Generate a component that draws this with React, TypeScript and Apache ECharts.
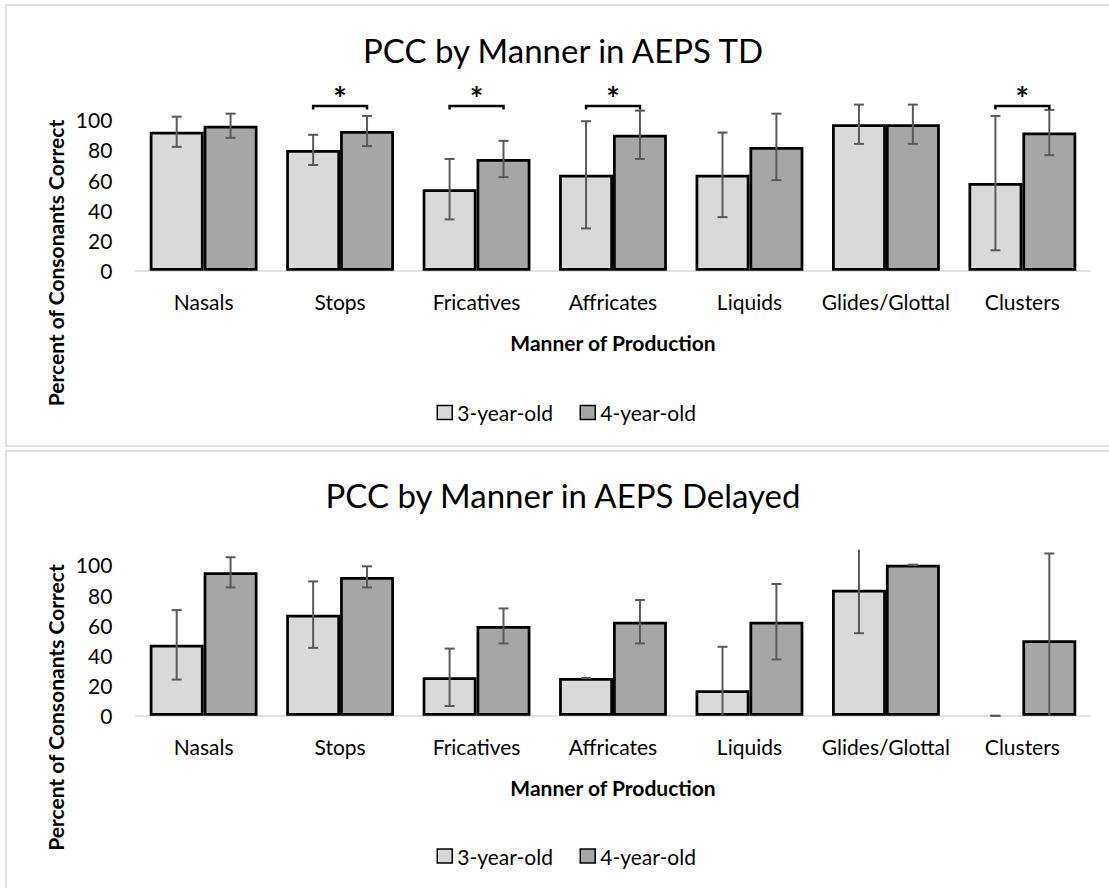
import React, { useEffect, useRef } from "react";
import * as echarts from "echarts";

const categories = ["Nasals", "Stops", "Fricatives", "Affricates", "Liquids", "Glides/Glottal", "Clusters"];
const ageGroups = ["3-year-old", "4-year-old"];

const tdThreeYear = [92, 80, 54, 63.5, 63.5, 97, 58];
const tdThreeYearSD = [10, 10, 20, 35.5, 28, 13, 44.5];
const tdFourYear = [96, 92.5, 74, 90, 82, 97, 91.5];
const tdFourYearSD = [8, 10, 12, 16, 22, 13, 15];
const tdSignificant = [false, true, true, true, false, false, true];

const delThreeYear = [47, 67, 25.5, 25, 17, 83.5, 0];
const delThreeYearSD = [23, 22, 19, 0, 28.7, 28.8, 0];
const delFourYear = [95, 92, 59.5, 62.3, 62.3, 100, 50];
const delFourYearSD = [10, 7, 11.6, 14.4, 25, 0, 57.5];
const delSignificant = [false, false, false, false, false, false, false];

const titles = ["PCC by Manner in AEPS TD", "PCC by Manner in AEPS Delayed"];
const xAxisTitle = "Manner of Production";
const yAxisTitle = "Percent of Consonants Correct";

const Y_MIN = 0;
const Y_MAX = 110;
const Y_INTERVAL = 20;
const BRACKET_LEVEL = 109;

const FONT = "Lato, 'Noto Sans', sans-serif";
const CAT_GAP = 0.21;
const COLOR_3 = "#d9d9d9";
const COLOR_4 = "#a6a6a6";
const ERR_COLOR = "#5a5a5a";

const errorRender = (params: any, api: any) => {
  const idx = api.value(0);
  const v = api.value(1);
  const e = api.value(2);
  const side = api.value(3);
  const band = api.size([1, 0])[0];
  const barW = (band * (1 - CAT_GAP)) / 2;
  const x = api.coord([idx, 0])[0] + (side * barW) / 2;
  const hiV = v + e;
  const loV = v - e;
  const yHi = api.coord([idx, Math.min(hiV, Y_MAX)])[1];
  const yLo = api.coord([idx, Math.max(loV, Y_MIN)])[1];
  const st = { stroke: ERR_COLOR, lineWidth: 2 };
  const children: any[] = [
    { type: "line", shape: { x1: x, y1: yHi, x2: x, y2: yLo }, style: st },
  ];
  if (hiV <= Y_MAX) children.push({ type: "line", shape: { x1: x - 5, y1: yHi, x2: x + 5, y2: yHi }, style: st });
  if (loV >= Y_MIN) children.push({ type: "line", shape: { x1: x - 5, y1: yLo, x2: x + 5, y2: yLo }, style: st });
  return { type: "group", children };
};

const bracketRender = (params: any, api: any) => {
  const idx = api.value(0);
  const lvl = api.value(1);
  const band = api.size([1, 0])[0];
  const barW = (band * (1 - CAT_GAP)) / 2;
  const cx = api.coord([idx, 0])[0];
  const y = api.coord([idx, lvl])[1];
  const x1 = cx - barW / 2;
  const x2 = cx + barW / 2;
  return {
    type: "group",
    children: [
      {
        type: "polyline",
        shape: { points: [[x1, y + 3.5], [x1, y], [x2, y], [x2, y + 3.5]] },
        style: { stroke: "#000", lineWidth: 2.5, fill: null },
      },
      {
        type: "text",
        x: cx,
        y: y - 24,
        style: { text: "*", fontFamily: FONT, fontSize: 32, fontWeight: "bold", fill: "#000", align: "center", verticalAlign: "top" },
      },
    ],
  };
};

const barData = (vals: number[]) =>
  vals.map((v) => (v === 0 ? { value: v, itemStyle: { borderWidth: 0 } } : v));

const errData = (vals: number[], sds: number[], side: number) =>
  vals.map((v, i) => [i, v, sds[i], side]);

const bracketData = (sig: boolean[]) =>
  sig.map((s, i) => (s ? [i, BRACKET_LEVEL] : null)).filter((d) => d !== null);

export default function App() {
  const ref = useRef<HTMLDivElement>(null);
  useEffect(() => {
    document.body.style.margin = "0";
    const chart = echarts.init(ref.current!, undefined, { renderer: "svg" });

    const baselines = [270.7, 715.8];
    const plotH = 166.1;
    const grids = baselines.map((b) => ({ left: 135.4, right: 18.4, top: b - plotH, height: plotH }));

    const xAxes = grids.map((_, gi) => ({
      type: "category",
      gridIndex: gi,
      data: categories,
      axisLine: { lineStyle: { color: "#d9d9d9", width: 1.5 } },
      axisTick: { show: false },
      axisLabel: { color: "#000", fontFamily: FONT, fontSize: 21, margin: 20, interval: 0 },
      name: xAxisTitle,
      nameLocation: "middle",
      nameGap: 61,
      nameTextStyle: { color: "#000", fontFamily: FONT, fontSize: 21, fontWeight: "bold" },
    }));

    const yAxes = grids.map((_, gi) => ({
      type: "value",
      gridIndex: gi,
      min: Y_MIN,
      max: Y_MAX,
      interval: Y_INTERVAL,
      axisLine: { show: false },
      axisTick: { show: false },
      splitLine: { show: false },
      axisLabel: {
        color: "#000",
        fontFamily: FONT,
        fontSize: 21,
        margin: 23,
        formatter: (v: number) => (v > 100 ? "" : String(v)),
      },
    }));

    const sets = [
      { three: tdThreeYear, threeSD: tdThreeYearSD, four: tdFourYear, fourSD: tdFourYearSD, sig: tdSignificant },
      { three: delThreeYear, threeSD: delThreeYearSD, four: delFourYear, fourSD: delFourYearSD, sig: delSignificant },
    ];

    const series: any[] = [];
    sets.forEach((s, gi) => {
      const common = {
        type: "bar",
        xAxisIndex: gi,
        yAxisIndex: gi,
        barGap: "0%",
        barCategoryGap: CAT_GAP * 100 + "%",
      };
      series.push({
        ...common,
        name: ageGroups[0],
        data: barData(s.three),
        itemStyle: { color: COLOR_3, borderColor: "#000", borderWidth: 2.75 },
      });
      series.push({
        ...common,
        name: ageGroups[1],
        data: barData(s.four),
        itemStyle: { color: COLOR_4, borderColor: "#000", borderWidth: 2.75 },
      });
      series.push({
        type: "custom",
        xAxisIndex: gi,
        yAxisIndex: gi,
        renderItem: errorRender,
        data: errData(s.three, s.threeSD, -1),
        encode: { x: 0, y: 1 },
        z: 5,
        clip: false,
        silent: true,
      });
      series.push({
        type: "custom",
        xAxisIndex: gi,
        yAxisIndex: gi,
        renderItem: errorRender,
        data: errData(s.four, s.fourSD, 1),
        encode: { x: 0, y: 1 },
        z: 5,
        clip: false,
        silent: true,
      });
      series.push({
        type: "custom",
        xAxisIndex: gi,
        yAxisIndex: gi,
        renderItem: bracketRender,
        data: bracketData(s.sig),
        encode: { x: 0, y: 1 },
        z: 6,
        clip: false,
        silent: true,
      });
    });

    const legendCommon = {
      orient: "horizontal",
      padding: 0,
      itemWidth: 15,
      itemHeight: 14,
      icon: "rect",
      selectedMode: false,
      itemStyle: { borderColor: "#000", borderWidth: 1.5 },
      textStyle: { color: "#000", fontFamily: FONT, fontSize: 21 },
    };
    const legendTops = [402, 845.5];
    const legends: any[] = [];
    legendTops.forEach((t) => {
      legends.push({ ...legendCommon, data: [ageGroups[0]], left: 436.5, top: t });
      legends.push({ ...legendCommon, data: [ageGroups[1]], left: 579.5, top: t });
    });

    const titleYs = [50, 495];
    const yNameYs = [263, 707.5];
    const graphics: any[] = [
      { type: "rect", z: -10, shape: { x: 6, y: 5, width: 1120, height: 441 }, style: { fill: "#fff", stroke: "#d9d9d9", lineWidth: 1.5 } },
      { type: "rect", z: -10, shape: { x: 6, y: 451, width: 1120, height: 460 }, style: { fill: "#fff", stroke: "#d9d9d9", lineWidth: 1.5 } },
    ];
    titles.forEach((t, i) => {
      graphics.push({
        type: "text",
        x: 563,
        y: titleYs[i],
        style: { text: t, fontFamily: FONT, fontSize: 33, fill: "#000", align: "center", verticalAlign: "middle" },
      });
      graphics.push({
        type: "text",
        x: 55,
        y: yNameYs[i],
        rotation: Math.PI / 2,
        style: {
          text: yAxisTitle,
          fontFamily: FONT,
          fontSize: 21,
          fontWeight: "bold",
          fill: "#000",
          align: "center",
          verticalAlign: "middle",
        },
      });
    });

    chart.setOption({
      animation: false,
      backgroundColor: "#fff",
      grid: grids,
      xAxis: xAxes,
      yAxis: yAxes,
      legend: legends,
      series,
      graphic: graphics,
    });
    return () => chart.dispose();
  }, []);
  return <div ref={ref} style={{ position: "absolute", left: 0, top: 0, width: 1109, height: 888 }} />;
}
